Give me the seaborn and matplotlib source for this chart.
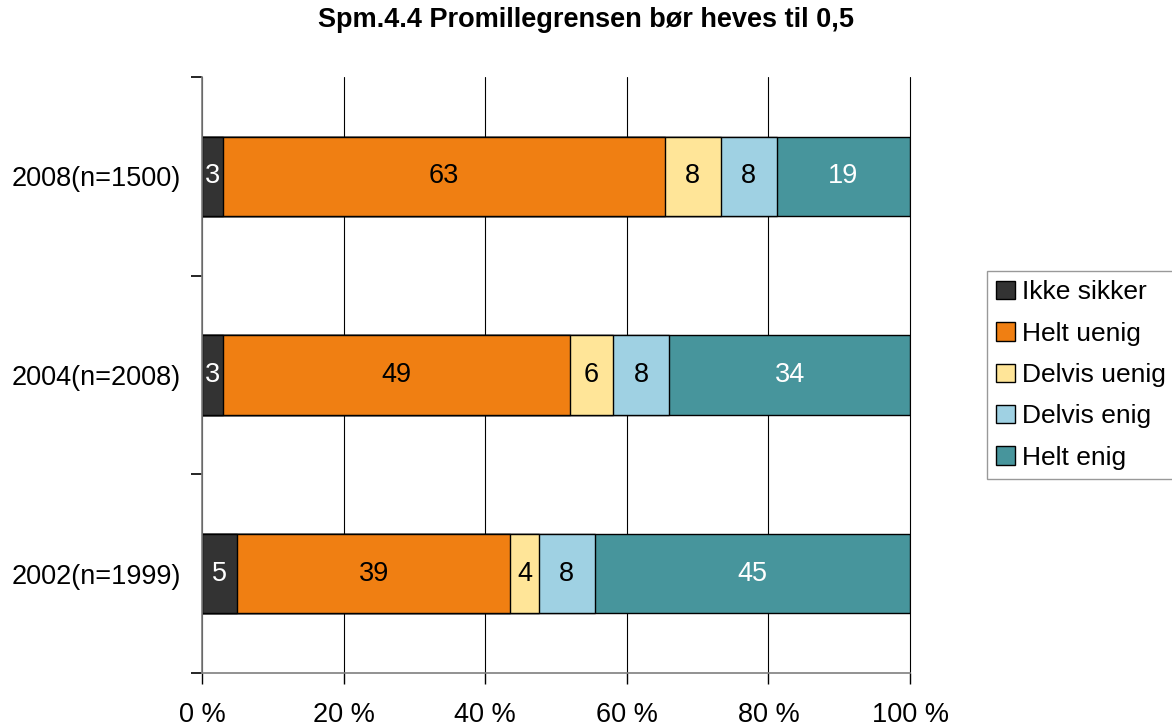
import pandas as pd
import matplotlib.pyplot as plt
import seaborn as sns
from matplotlib.patches import Patch
from matplotlib import font_manager

# survey data (percent, as printed on the bars)
years = ['2008(n=1500)', '2004(n=2008)', '2002(n=1999)']
answers = ['Ikke sikker', 'Helt uenig', 'Delvis uenig', 'Delvis enig', 'Helt enig']
ikke_sikker = [3, 3, 5]
helt_uenig = [63, 49, 39]
delvis_uenig = [8, 6, 4]
delvis_enig = [8, 8, 8]
helt_enig = [19, 34, 45]

colors = ['#333333', '#F07F12', '#FFE598', '#9FD1E3', '#47959C']
text_colors = ['white', 'black', 'black', 'black', 'white']

df = pd.DataFrame({
    'Ikke sikker': ikke_sikker,
    'Helt uenig': helt_uenig,
    'Delvis uenig': delvis_uenig,
    'Delvis enig': delvis_enig,
    'Helt enig': helt_enig,
}, index=years)[answers]

# 100 % stacked
pct = df.div(df.sum(axis=1), axis=0) * 100
cum = pct.cumsum(axis=1)

sns.set_style('white')
plt.rcParams['font.family'] = ['Liberation Sans', 'DejaVu Sans']
plt.rcParams['text.color'] = 'black'
plt.rcParams['xtick.color'] = 'black'
plt.rcParams['ytick.color'] = 'black'
plt.rcParams['axes.labelcolor'] = 'black'

# make sure the bold title uses the regular-width Liberation Sans Bold
bold_path = None
for f in font_manager.findSystemFonts():
    if f.endswith('LiberationSans-Bold.ttf'):
        bold_path = f
        break
if bold_path:
    title_font = font_manager.FontProperties(fname=bold_path, size=19.5)
else:
    title_font = font_manager.FontProperties(family='Liberation Sans', weight='bold', size=19.5)

fig = plt.figure(figsize=(11.72, 7.26), dpi=100)
ax = fig.add_axes([0.1724, 0.073, 0.6041, 0.821])

# draw cumulative bars from the longest to the shortest so they stack
for i in range(len(answers) - 1, -1, -1):
    sns.barplot(x=cum[answers[i]].values, y=years, orient='h', color=colors[i],
                saturation=1, width=0.4, edgecolor='black', linewidth=1, ax=ax)

for j in range(len(years)):
    for i, col in enumerate(answers):
        xc = cum.iloc[j, i] - pct.iloc[j, i] / 2
        ax.text(xc, j, f'{df.iloc[j, i]}', ha='center', va='center',
                fontsize=19.5, color=text_colors[i], zorder=5)

ax.set_axisbelow(True)
ax.xaxis.grid(True, color='black', linewidth=0.8)
ax.yaxis.grid(False)

ax.set_xlim(0, 100)
ax.set_xticks(range(0, 101, 20))
ax.set_xticklabels([f'{v} %' for v in range(0, 101, 20)])
ax.set_yticks(range(len(years)))
ax.set_yticklabels(years)
ax.set_yticks([-0.5, 0.5, 1.5, 2.5], minor=True)
ax.set_ylim(2.5, -0.5)
ax.set_xlabel('')
ax.set_ylabel('')

ax.tick_params(axis='x', which='major', bottom=True, length=8, width=1,
               color='black', labelsize=19.5, pad=13)
ax.tick_params(axis='y', which='major', left=True, length=0, pad=15, labelsize=19.5)
ax.tick_params(axis='y', which='minor', left=True, length=8, width=1.2, color='black')

for line in ax.get_xgridlines():
    line.set_clip_on(False)

for s in ['top', 'right']:
    ax.spines[s].set_visible(False)
for s in ['left', 'bottom']:
    ax.spines[s].set_color('#7f7f7f')
    ax.spines[s].set_linewidth(1.2)

fig.suptitle('Spm.4.4 Promillegrensen bør heves til 0,5', fontproperties=title_font,
             y=0.972, va='center', color='black')

handles = [Patch(facecolor=c, edgecolor='black', linewidth=1) for c in colors]
leg = fig.legend(handles, answers, loc='center left', bbox_to_anchor=(0.842, 0.4835),
                 fontsize=19, frameon=True, fancybox=False, edgecolor='#808080',
                 handlelength=0.7, handleheight=0.7, handletextpad=0.3,
                 labelspacing=0.66, borderpad=0.35, borderaxespad=0)
leg.get_frame().set_linewidth(1)

fig.savefig('out.png', dpi=100)
